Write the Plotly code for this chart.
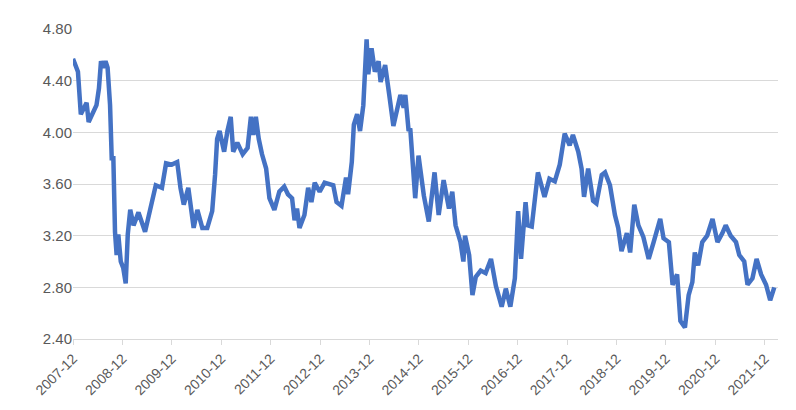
import pandas as pd
import plotly.graph_objects as go

# month offsets from 2007-12 and yield values
months = [0,1.2,1.9,3.3,3.8,5.7,6.3,6.8,7.3,7.9,8.4,9,9.4,9.8,10.2,10.6,11,11.6,12.2,12.8,13.3,13.9,14.7,15.9,17.5,19.2,20.1,21.6,22.6,24,25.3,26.1,26.9,28,29.3,30.2,31.4,32.6,33.8,34.5,35,35.6,36.7,37.5,38.3,38.9,39.9,41.2,42.4,43.2,43.8,44.4,45.1,45.9,46.9,47.7,48.9,50.1,51.3,52.2,53.2,53.8,54.4,55,56.2,57.1,57.9,58.7,59.9,61.1,63.2,64,65.2,66.3,66.8,67.7,68.2,69,69.7,70.5,70.9,71.3,71.7,72.5,73.3,74.2,74.7,75.8,76.8,77.8,79.5,80.3,80.7,81.5,81.9,82.3,83.1,83.9,85.2,86.4,87.8,88.8,90,91.3,92.1,92.9,94.1,94.8,95.2,96.2,97,97.8,99,100.2,101.5,102.7,104.1,105.1,106.2,107.3,108.1,108.8,109.9,110.4,111.4,112.9,114.5,115.7,117,118.2,119.4,120.6,121.4,122.7,123.5,124.1,125.1,126.3,127.1,128.4,129.2,130.4,131.6,132.4,133.2,134.5,135.3,136.3,137.3,138.5,139.8,141,142.6,143.4,144.7,145.6,146.7,147.5,148.6,149.5,150.4,151,151.8,152.8,154,155.3,156.5,157.7,158.5,159.7,161,161.8,163,163.8,165,166,167.1,168.3,169.3,170.3]
values = [4.57,4.47,4.14,4.23,4.08,4.21,4.34,4.55,4.50,4.55,4.50,4.21,3.80,3.80,3.23,3.05,3.21,3.00,2.95,2.83,3.21,3.40,3.28,3.38,3.23,3.49,3.59,3.57,3.76,3.75,3.77,3.57,3.44,3.57,3.26,3.40,3.26,3.26,3.39,3.67,3.95,4.01,3.85,4.01,4.12,3.85,3.92,3.83,3.88,4.12,3.98,4.12,3.95,3.83,3.72,3.49,3.40,3.54,3.58,3.52,3.49,3.32,3.41,3.26,3.36,3.57,3.46,3.61,3.54,3.61,3.59,3.46,3.43,3.65,3.52,3.77,4.06,4.14,4.01,4.21,4.58,4.72,4.45,4.65,4.47,4.55,4.39,4.52,4.29,4.05,4.29,4.19,4.29,4.01,4.03,3.80,3.49,3.82,3.51,3.31,3.69,3.36,3.63,3.41,3.54,3.28,3.15,3.00,3.20,3.05,2.74,2.88,2.93,2.91,3.02,2.81,2.65,2.79,2.65,2.87,3.39,3.02,3.46,3.28,3.27,3.69,3.50,3.64,3.62,3.75,3.99,3.90,3.98,3.85,3.72,3.50,3.72,3.47,3.45,3.67,3.69,3.59,3.36,3.26,3.08,3.22,3.07,3.44,3.28,3.19,3.02,3.15,3.33,3.18,3.15,2.82,2.90,2.54,2.49,2.74,2.84,3.07,2.97,3.15,3.20,3.33,3.15,3.22,3.28,3.20,3.15,3.05,3.00,2.82,2.87,3.02,2.90,2.82,2.70,2.80]
tick_labels = [f"{y}-12" for y in range(2007, 2022)]
y_ticks = [2.40, 2.80, 3.20, 3.60, 4.00, 4.40, 4.80]

base = pd.Timestamp("2007-12-01")
dates = [base + pd.Timedelta(days=m * 30.44) for m in months]
tick_vals = [pd.Timestamp(f"{y}-12-01") for y in range(2007, 2022)]

fig = go.Figure(go.Scatter(x=dates, y=values, mode="lines",
                           line=dict(color="#4472C4", width=4.5)))
fig.update_layout(
    width=796, height=410, plot_bgcolor="white", paper_bgcolor="white",
    margin=dict(l=65, r=26, t=21, b=79), showlegend=False,
    font=dict(family="Liberation Sans, Arial", size=14, color="#595959"),
)
fig.update_xaxes(tickvals=tick_vals, ticktext=tick_labels, tickangle=-45,
                 range=[base, base + pd.Timedelta(days=171.2 * 30.44)],
                 showgrid=False, showline=True, linecolor="#D9D9D9",
                 ticks="outside", tickcolor="#D9D9D9", ticklen=5,
                 automargin=False, tickfont=dict(size=14))
fig.update_yaxes(range=[2.4, 4.8], tickvals=y_ticks, tickformat=".2f",
                 showgrid=True, gridcolor="#D9D9D9", zeroline=False,
                 automargin=False, tickfont=dict(size=15))
fig.write_html("out.html")
